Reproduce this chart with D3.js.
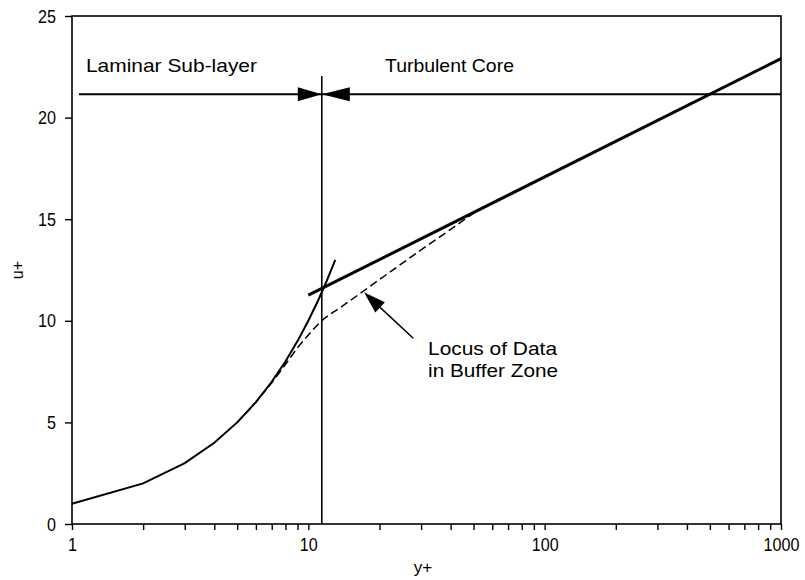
<!DOCTYPE html>
<html>
<head>
<meta charset="utf-8">
<script src="https://cdn.jsdelivr.net/npm/d3@7"></script>
<style>
  body { margin: 0; background: #fff; }
  svg { display: block; }
  text { font-family: "Liberation Sans", Arial, sans-serif; fill: #000; }
</style>
</head>
<body>
<svg id="chart" width="805" height="580"></svg>
<script>
// Universal velocity profile near a wall: laminar sub-layer, buffer zone, turbulent core

// Laminar sub-layer, u+ = y+
const laminarYPlus = [1, 2, 3, 4, 5, 6, 7, 8, 9, 10, 11, 12, 13];
const laminarUPlus = [1, 2, 3, 4, 5, 6, 7, 8, 9, 10, 11, 12, 13];

// Turbulent core (log law)
const logLawYPlus = [10, 1000];
const logLawUPlus = [11.26, 22.9];

// Measured locus in the buffer zone
const bufferYPlus = [5, 6, 7, 8, 8.9, 10, 11.4, 13.6, 16.5, 20, 23.7, 30, 40, 50];
const bufferUPlus = [5, 6.0, 6.95, 7.85, 8.6, 9.3, 10.0, 10.64, 11.33, 12.03, 12.64, 13.49, 14.5, 15.3];

// Axis ticks
const xTickValues = [1, 10, 100, 1000];
const yTickValues = [0, 5, 10, 15, 20, 25];

// Region divider and labels (data coordinates)
const boundaryYPlus = 11.4;
const boundaryTopUPlus = 22.05;
const regionLineUPlus = 21.15;
const regionLineFrom = 1.07;
const regionLabels = ["Laminar Sub-layer", "Turbulent Core"];
const regionLabelYPlus = [1.146, 21.1];
const regionLabelUPlus = 22.25;

// Note pointing at the buffer-zone locus
const noteLines = ["Locus of Data", "in Buffer Zone"];
const noteYPlus = 32.1;
const noteUPlus = 8.32;
const noteArrowFrom = [27.8, 9.14];
const noteArrowTo = [17.2, 11.4];

const svg = d3.select("#chart");
const plotLeft = 72, plotRight = 781, plotTop = 16, plotBottom = 524;

const x = d3.scaleLog().domain([1, 1000]).range([plotLeft, plotRight]);
const y = d3.scaleLinear().domain([0, 25]).range([plotBottom, plotTop]);

// Frame
svg.append("rect")
  .attr("x", plotLeft).attr("y", plotTop)
  .attr("width", plotRight - plotLeft).attr("height", plotBottom - plotTop)
  .attr("fill", "none").attr("stroke", "#000").attr("stroke-width", 1.6);

// Bottom axis: decades labelled, every integer multiple ticked
const xAxis = d3.axisBottom(x)
  .tickValues(x.ticks())
  .tickSize(6).tickPadding(8)
  .tickFormat(d => xTickValues.includes(d) ? String(d) : "");
const gx = svg.append("g").attr("transform", `translate(0,${plotBottom})`).call(xAxis);
gx.select(".domain").remove();
gx.selectAll(".tick line").attr("stroke-width", 1.4);
gx.selectAll(".tick text")
  .attr("font-size", 19)
  .attr("transform", "scale(0.85,1)");

// Left axis
const yAxis = d3.axisLeft(y).tickValues(yTickValues).tickSize(7).tickPadding(9);
const gy = svg.append("g").attr("transform", `translate(${plotLeft},0)`).call(yAxis);
gy.select(".domain").remove();
gy.selectAll(".tick line").attr("stroke-width", 1.4);
gy.selectAll(".tick text")
  .attr("font-size", 19)
  .attr("x", -16 / 0.85)
  .attr("transform", "scale(0.85,1)");

// Axis titles
svg.append("text")
  .attr("x", 423).attr("y", 573)
  .attr("text-anchor", "middle").attr("font-size", 17)
  .text("y+");
svg.append("text")
  .attr("transform", `translate(23,${(plotTop + plotBottom) / 2}) rotate(-90)`)
  .attr("text-anchor", "middle").attr("font-size", 16)
  .text("u+");

const line = d3.line().x(d => x(d[0])).y(d => y(d[1]));

// Buffer-zone locus (dashed)
svg.append("path")
  .datum(bufferYPlus.map((v, i) => [v, bufferUPlus[i]]))
  .attr("d", line.curve(d3.curveMonotoneX))
  .attr("fill", "none").attr("stroke", "#000")
  .attr("stroke-width", 1.5).attr("stroke-dasharray", "8,4");

line.curve(d3.curveLinear);

// Laminar sub-layer
svg.append("path")
  .datum(laminarYPlus.map((v, i) => [v, laminarUPlus[i]]))
  .attr("d", line)
  .attr("fill", "none").attr("stroke", "#000").attr("stroke-width", 2);

// Log-law line
svg.append("path")
  .datum(logLawYPlus.map((v, i) => [v, logLawUPlus[i]]))
  .attr("d", line)
  .attr("fill", "none").attr("stroke", "#000").attr("stroke-width", 3);

// Region divider
svg.append("line")
  .attr("x1", x(boundaryYPlus)).attr("x2", x(boundaryYPlus))
  .attr("y1", y(boundaryTopUPlus)).attr("y2", plotBottom)
  .attr("stroke", "#000").attr("stroke-width", 1.6);
svg.append("line")
  .attr("x1", x(regionLineFrom)).attr("x2", plotRight)
  .attr("y1", y(regionLineUPlus)).attr("y2", y(regionLineUPlus))
  .attr("stroke", "#000").attr("stroke-width", 1.8);

// Filled triangular arrowhead with its tip at (tx, ty), pointing along angle
function arrowHead(tx, ty, angle, len, half) {
  const bx = tx - len * Math.cos(angle), by = ty - len * Math.sin(angle);
  const px = -Math.sin(angle) * half, py = Math.cos(angle) * half;
  svg.append("path")
    .attr("d", `M${tx},${ty}L${bx + px},${by + py}L${bx - px},${by - py}Z`)
    .attr("fill", "#000");
}
const divX = x(boundaryYPlus), divY = y(regionLineUPlus);
arrowHead(divX, divY, 0, 24, 7);
arrowHead(divX, divY, Math.PI, 28, 7);

// Region labels
const labelWidths = [171, 129];
regionLabels.forEach((t, i) => {
  svg.append("text")
    .attr("x", x(regionLabelYPlus[i])).attr("y", y(regionLabelUPlus))
    .attr("font-size", 19)
    .attr("textLength", labelWidths[i]).attr("lengthAdjust", "spacingAndGlyphs")
    .text(t);
});

// Note and its arrow
const ax0 = x(noteArrowFrom[0]), ay0 = y(noteArrowFrom[1]);
const ax1 = x(noteArrowTo[0]), ay1 = y(noteArrowTo[1]);
const ang = Math.atan2(ay1 - ay0, ax1 - ax0);
svg.append("line")
  .attr("x1", ax0).attr("y1", ay0)
  .attr("x2", ax1 - 15 * Math.cos(ang)).attr("y2", ay1 - 15 * Math.sin(ang))
  .attr("stroke", "#000").attr("stroke-width", 1.5);
arrowHead(ax1, ay1, ang, 22, 7);

const noteWidths = [129, 130];
noteLines.forEach((t, i) => {
  svg.append("text")
    .attr("x", x(noteYPlus)).attr("y", y(noteUPlus) + i * 22)
    .attr("font-size", 19)
    .attr("textLength", noteWidths[i]).attr("lengthAdjust", "spacingAndGlyphs")
    .text(t);
});
</script>
</body>
</html>
